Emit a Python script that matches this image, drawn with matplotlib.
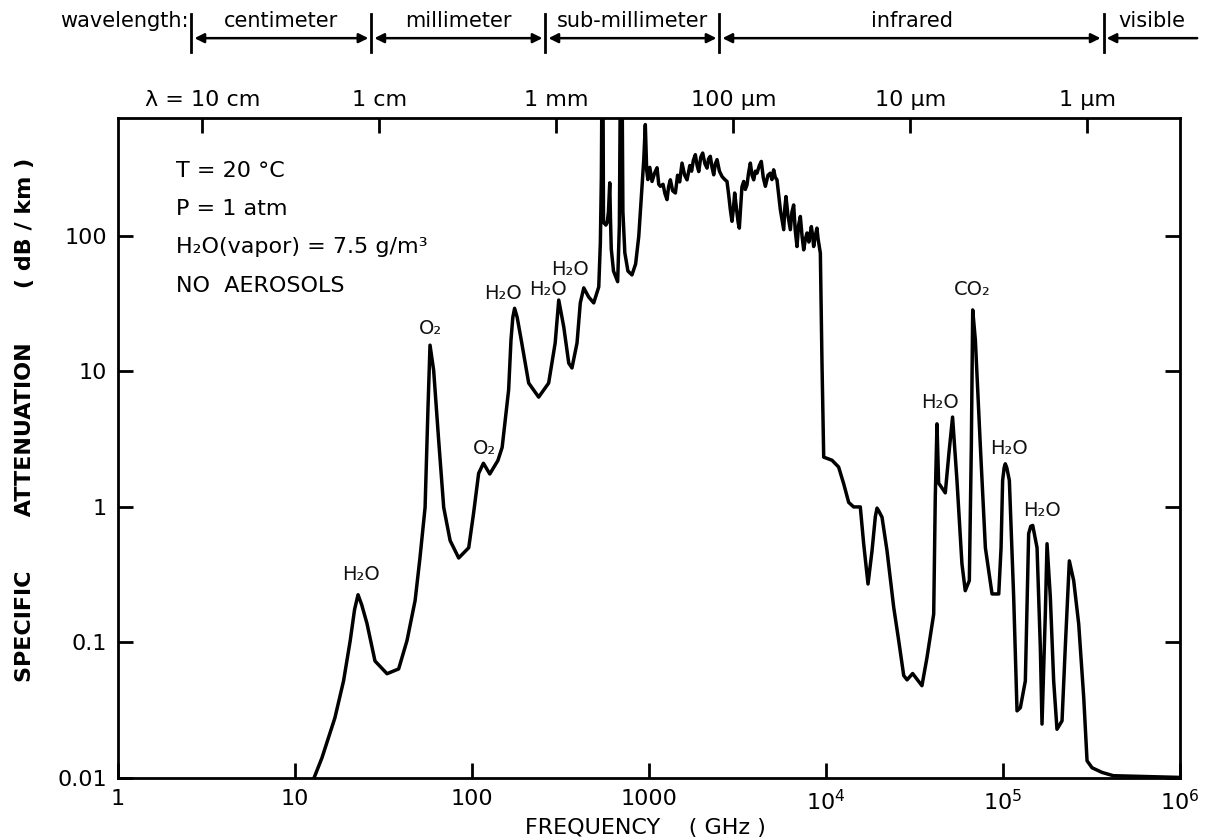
import matplotlib
matplotlib.use("Agg")
import matplotlib.pyplot as plt
import matplotlib.transforms as mtransforms
from matplotlib.ticker import NullLocator

plt.rcParams['font.family'] = ['DejaVu Sans']

# atmospheric specific attenuation, T=20C, P=1 atm, 7.5 g/m3 water vapour
freq_ghz = [
    12.8, 14.2, 16.8, 18.8, 20.5, 21.7, 22.7, 23.8, 25.5, 28.3, 33.1, 38.5,
    42.9, 47.7, 50.8, 54.3, 56.4, 57.9, 60.7, 64.8, 69.2, 75.2, 84.1, 95.8,
    102, 109, 116, 126, 140, 148, 161, 166, 170, 174, 180, 191, 209, 238,
    271, 295, 309, 330, 352, 367, 392, 409, 428, 456, 487, 520, 531, 538,
    543, 549, 553, 560, 570, 580, 590, 600, 606, 612, 630, 665, 680, 690,
    703, 712, 730, 760, 801, 840, 875, 934, 953, 970, 985, 1010, 1040, 1075,
    1110, 1135, 1159, 1200, 1230, 1264, 1290, 1320, 1360, 1409, 1450, 1490,
    1536, 1590, 1640, 1700, 1740, 1780, 1827, 1870, 1910, 1960, 2010, 2070,
    2127, 2170, 2220, 2270, 2320, 2370, 2423, 2500, 2585, 2680, 2758, 2820,
    2880, 2943, 3000, 3048, 3100, 3142, 3190, 3237, 3300, 3350, 3427, 3500,
    3578, 3650, 3737, 3820, 3903, 3990, 4076, 4200, 4310, 4420, 4543, 4700,
    4845, 4950, 5060, 5170, 5284, 5400, 5521, 5650, 5768, 5850, 5940, 6100,
    6287, 6420, 6564, 6700, 6856, 7000, 7161, 7320, 7480, 7650, 7809, 8000,
    8263, 8400, 8515, 8700, 8886, 9020, 9160, 9290, 9490, 9705, 10810,
    11780, 12590, 13430, 14330, 15620, 16320, 17270, 18200, 19000, 19420,
    19900, 20720, 22110, 24120, 25750, 27480, 28700, 30860, 34830, 37200,
    40590, 41430, 42360, 43280, 47190, 49500, 51880, 54930, 58610, 61190,
    64520, 66220, 67420, 69800, 74500, 79500, 86700, 94600, 97500, 99500,
    101500, 103000, 105000, 108600, 114900, 120000, 125300, 133700, 139600,
    143500, 147200, 155700, 162500, 166100, 173400, 177300, 185100, 193300,
    201800, 215500, 224800, 237000, 250800, 267700, 285800, 298400, 318500,
    362400, 420000, 1000000,
]
atten_db_km = [
    0.0100, 0.0141, 0.0278, 0.052, 0.103, 0.175, 0.225, 0.19, 0.138, 0.073,
    0.0588, 0.0638, 0.103, 0.204, 0.42, 0.99, 5.4, 15.6, 10.2, 3.1, 0.99,
    0.565, 0.42, 0.50, 0.895, 1.77, 2.1, 1.75, 2.2, 2.75, 7.3, 17, 25, 29.2,
    25, 16.2, 8.2, 6.46, 8.2, 16.2, 33.6, 21.2, 11.5, 10.6, 16.2, 32, 41.3,
    35.4, 32, 42, 88.7, 273, 2000, 2000, 125, 125, 120, 125, 150, 246, 130,
    80, 55, 45.9, 120, 2000, 2000, 150, 75, 55, 51.5, 62, 98.9, 365, 662,
    307, 260, 320, 252, 290, 318, 240, 232, 240, 205, 185, 230, 259, 215,
    207, 280, 250, 344, 280, 259, 330, 300, 360, 397, 330, 298, 380, 408,
    340, 316, 370, 386, 320, 282, 340, 365, 300, 274, 260, 252, 200, 156,
    128, 160, 207, 170, 147, 125, 114, 170, 230, 252, 220, 238, 290, 344,
    280, 259, 300, 290, 330, 354, 270, 232, 280, 290, 260, 307, 270, 259,
    200, 156, 130, 111, 160, 195, 140, 111, 150, 169, 110, 83.4, 120, 139,
    100, 78.8, 95, 105, 90, 117, 100, 83.4, 100, 114, 95, 83.4, 74.5, 11.5,
    2.33, 2.21, 1.97, 1.48, 1.08, 1.0, 1.0, 0.535, 0.27, 0.476, 0.85, 0.98,
    0.93, 0.84, 0.476, 0.182, 0.103, 0.057, 0.053, 0.059, 0.048, 0.0775,
    0.162, 1.18, 4.1, 1.5, 1.27, 2.5, 4.6, 1.57, 0.38, 0.241, 0.286, 2.77,
    28.4, 17, 2.77, 0.50, 0.228, 0.228, 0.50, 1.57, 1.95, 2.08, 1.95, 1.57,
    0.215, 0.0313, 0.033, 0.052, 0.635, 0.72, 0.73, 0.50, 0.092, 0.025,
    0.162, 0.535, 0.215, 0.052, 0.0229, 0.0264, 0.092, 0.40, 0.286, 0.137,
    0.0392, 0.0134, 0.0119, 0.0110, 0.0104, 0.0101,
]

# absorption line labels
line_names = ['H₂O', 'O₂', 'O₂', 'H₂O', 'H₂O', 'H₂O', 'H₂O', 'CO₂', 'H₂O', 'H₂O']
line_freq = [23.5, 58, 117, 150, 270, 360, 44000, 67000, 108000, 165000]
line_atten = [0.27, 17.5, 2.3, 32, 34, 48, 5.0, 34, 2.3, 0.8]

x_ticks = [1, 10, 100, 1000, 1e4, 1e5, 1e6]
x_ticklabels = ['1', '10', '100', '1000', '$10^4$', '$10^5$', '$10^6$']
y_ticks = [0.01, 0.1, 1, 10, 100]
y_ticklabels = ['0.01', '0.1', '1', '10', '100']

wl_ticks = [3, 30, 300, 3000, 30000, 300000]
wl_labels = ['λ = 10 cm', '1 cm', '1 mm', '100 μm', '10 μm', '1 μm']

band_edges = [2.6, 27, 260, 2500, 370000, 1300000]
band_names = ['centimeter', 'millimeter', 'sub-millimeter', 'infrared', 'visible']

fig = plt.figure(figsize=(12.13, 8.40), dpi=100)
ax = fig.add_axes([0.0973, 0.0738, 0.8755, 0.7857])

ax.plot(freq_ghz, atten_db_km, color='black', lw=2.5, solid_joinstyle='round')
ax.set_xscale('log')
ax.set_yscale('log')
ax.set_xlim(1, 1e6)
ax.set_ylim(0.01, 740)

ax.set_xticks(x_ticks)
ax.set_xticklabels(x_ticklabels)
ax.set_yticks(y_ticks)
ax.set_yticklabels(y_ticklabels)
ax.xaxis.set_minor_locator(NullLocator())
ax.yaxis.set_minor_locator(NullLocator())
ax.tick_params(direction='in', length=11, width=2, labelsize=16, pad=8,
               right=True)
for sp in ax.spines.values():
    sp.set_linewidth(2)

# wavelength scale along the top edge
top = ax.twiny()
top.set_xscale('log')
top.set_xlim(ax.get_xlim())
top.set_xticks(wl_ticks)
top.set_xticklabels(wl_labels)
top.xaxis.set_minor_locator(NullLocator())
top.tick_params(direction='in', length=11, width=2, labelsize=16, pad=6)

for name, f, a in zip(line_names, line_freq, line_atten):
    ax.text(f, a, name, fontsize=14, color='#111111',
            ha='center', va='bottom')

info = ['T = 20 °C', 'P = 1 atm', 'H₂O(vapor) = 7.5 g/m³', 'NO  AEROSOLS']
for i, s in enumerate(info):
    ax.text(0.055, 0.92 - i * 0.058, s, transform=ax.transAxes,
            fontsize=16, va='center', ha='left')

fig.text(25 / 1213, 1 - 420 / 840,
         'SPECIFIC       ATTENUATION       ( dB / km )',
         rotation=90, fontsize=16, fontweight='bold', ha='center', va='center')
fig.text(645 / 1213, 1 - 828 / 840, 'FREQUENCY    ( GHz )',
         fontsize=16, ha='center', va='center')

# wavelength bands above the plot
trans = mtransforms.blended_transform_factory(ax.transData, ax.transAxes)
for e in band_edges[:-1]:
    ax.plot([e, e], [1.10, 1.158], transform=trans, color='black', lw=2,
            clip_on=False)
for i, name in enumerate(band_names):
    lo, hi = band_edges[i], band_edges[i + 1]
    ax.annotate('', xy=(lo * 1.04, 1.121), xytext=(hi / 1.04, 1.121),
                xycoords=trans, textcoords=trans, annotation_clip=False,
                arrowprops=dict(arrowstyle='<|-|>' if i < 4 else '-|>',
                                color='black', lw=1.8, mutation_scale=14,
                                shrinkA=0, shrinkB=0))
    ax.text((lo * hi) ** 0.5, 1.147, name, transform=trans, fontsize=15,
            ha='center', va='center')
ax.text(band_edges[0] / 1.04, 1.147, 'wavelength:', transform=trans,
        fontsize=15, ha='right', va='center')

fig.savefig('out.png', dpi=100)
